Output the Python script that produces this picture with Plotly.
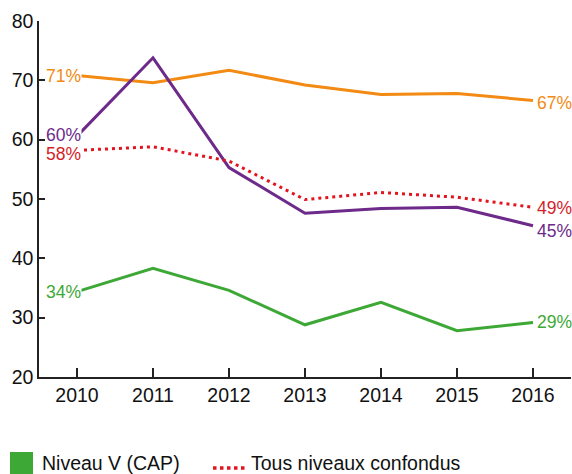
import plotly.graph_objects as go

years = [2010, 2011, 2012, 2013, 2014, 2015, 2016]

series_names = ["Niveau IV", "Niveau III", "Tous niveaux confondus", "Niveau V (CAP)"]
niveau_iv = [70.8, 69.6, 71.7, 69.2, 67.6, 67.8, 66.6]
niveau_iii = [60.6, 73.8, 55.3, 47.6, 48.4, 48.6, 45.5]
tous_niveaux = [58.2, 58.8, 56.4, 49.9, 51.1, 50.3, 48.6]
niveau_v = [34.4, 38.3, 34.6, 28.8, 32.6, 27.8, 29.2]

start_labels = ["71%", "60%", "58%", "34%"]
end_labels = ["67%", "45%", "49%", "29%"]

line_colors = ["#F28A13", "#6D2A8A", "#E3141F", "#3DA836"]
label_colors = ["#F28A13", "#6D2A8A", "#D41E29", "#3DA836"]
dashes = ["solid", "solid", "3px,4px", "solid"]
start_shift = [0, 1, -4, 0]
end_shift = [-2, -5, -1, 0]

FONT = "Liberation Sans, Arial, sans-serif"

values = [niveau_iv, niveau_iii, tous_niveaux, niveau_v]

fig = go.Figure()
for name, vals, col, dash in zip(series_names, values, line_colors, dashes):
    fig.add_trace(go.Scatter(
        x=years, y=vals, mode="lines", name=name,
        line=dict(color=col, width=3, dash=dash),
        showlegend=False, hoverinfo="skip",
    ))

annotations = []
for vals, col, lab_s, lab_e, ss, es in zip(values, label_colors, start_labels,
                                           end_labels, start_shift, end_shift):
    annotations.append(dict(
        x=years[0], y=vals[0], text=lab_s, showarrow=False,
        xanchor="right", yanchor="middle", xshift=5, yshift=ss,
        font=dict(family=FONT, size=17.5, color=col),
        bgcolor="white", borderpad=0,
    ))
    annotations.append(dict(
        x=years[-1], y=vals[-1], text=lab_e, showarrow=False,
        xanchor="left", yanchor="middle", xshift=2, yshift=es,
        font=dict(family=FONT, size=17.5, color=col),
    ))

# Legend row drawn below the plot area
plot_w, plot_h = 532, 356
def px(xp):
    return (xp - 39) / plot_w
def py(yp):
    return (377 - yp) / plot_h

shapes = [
    dict(type="rect", xref="paper", yref="paper",
         x0=px(10), x1=px(33), y0=py(474), y1=py(452),
         fillcolor=line_colors[3], line=dict(width=0)),
    dict(type="line", xref="paper", yref="paper",
         x0=px(213), x1=px(247), y0=py(468), y1=py(468),
         line=dict(color=line_colors[2], width=3.5, dash="3.5px,3.5px")),
]
annotations.append(dict(
    xref="paper", yref="paper", x=px(40), y=py(463), text=series_names[3],
    showarrow=False, xanchor="left", yanchor="middle",
    font=dict(family=FONT, size=19.5, color="#111111"),
))
annotations.append(dict(
    xref="paper", yref="paper", x=px(249), y=py(463), text=series_names[2],
    showarrow=False, xanchor="left", yanchor="middle",
    font=dict(family=FONT, size=19.5, color="#111111"),
))

fig.update_layout(
    width=572, height=474,
    margin=dict(l=39, r=1, t=21, b=97),
    paper_bgcolor="white", plot_bgcolor="white",
    font=dict(family=FONT, size=19.5, color="#111111"),
    annotations=annotations, shapes=shapes,
    showlegend=False,
)
fig.update_xaxes(
    range=[2009.5, 2016.5], tickvals=years, ticktext=[str(y) for y in years],
    showline=True, linecolor="#222222", linewidth=1.5,
    ticks="inside", ticklen=9, tickcolor="#222222", tickwidth=1.5,
    showgrid=False, zeroline=False, fixedrange=True,
    tickfont=dict(family=FONT, size=19.5, color="#111111"),
)
fig.update_yaxes(
    range=[20, 80], dtick=10, tick0=20,
    showline=True, linecolor="#222222", linewidth=1.5,
    ticks="inside", ticklen=6, tickcolor="#222222", tickwidth=1.5,
    showgrid=False, zeroline=False, fixedrange=True,
    tickfont=dict(family=FONT, size=19.5, color="#111111"),
)

fig.write_html("out.html")
